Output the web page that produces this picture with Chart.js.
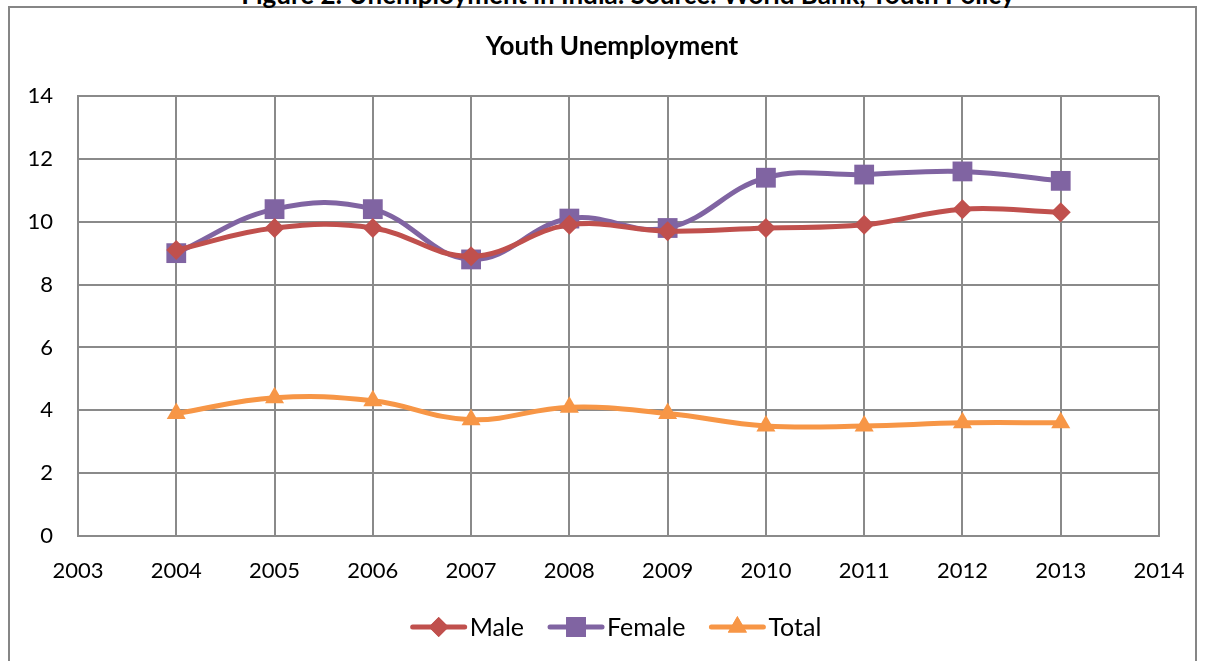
<!DOCTYPE html>
<html>
<head>
<meta charset="utf-8">
<title>Youth Unemployment</title>
<script src="https://cdn.jsdelivr.net/npm/chart.js@4"></script>
<style>
  html, body { margin: 0; padding: 0; background: #fff; overflow: hidden; }
  #wrap { position: relative; width: 1207px; height: 661px; overflow: hidden; }
  #frame {
    position: absolute; left: 8px; top: 6px; width: 1189px; height: 700px;
    border: 2px solid #868686; box-sizing: border-box;
  }
  #caption {
    position: absolute; left: 0; width: 1256px; top: -21px; text-align: center;
    font: bold 26px/30px Lato, sans-serif; color: #000; white-space: nowrap;
  }
  #chart { position: absolute; left: 0; top: 0; }
</style>
</head>
<body>
<div id="wrap">
  <div id="frame"></div>
  <div id="caption">Figure 2: Unemployment in India: Source: World Bank, Youth Policy</div>
  <canvas id="chart" width="1207" height="661"></canvas>
</div>
<script>
// youth unemployment rate (%), by year
const years  = [2004, 2005, 2006, 2007, 2008, 2009, 2010, 2011, 2012, 2013];
const male   = [9.1, 9.8, 9.8, 8.9, 9.9, 9.7, 9.8, 9.9, 10.4, 10.3];
const female = [9.0, 10.4, 10.4, 8.8, 10.1, 9.8, 11.4, 11.5, 11.6, 11.3];
const total  = [3.9, 4.4, 4.3, 3.7, 4.1, 3.9, 3.5, 3.5, 3.6, 3.6];
const chartTitle = 'Youth Unemployment';

const FONT = "Lato, 'Open Sans', sans-serif";
const GRID = '#8a8a8a';

function pts(vals) {
  return years.map((y, i) => ({ x: y, y: vals[i] }));
}

function series(label, vals, color, style, radius) {
  return {
    label: label,
    data: pts(vals),
    borderColor: color,
    backgroundColor: color,
    borderWidth: 5,
    tension: 0.4,
    pointStyle: style,
    pointRadius: radius,
    pointHoverRadius: radius,
    pointBorderWidth: 0
  };
}

// title on top, legend at the bottom (short line with the marker in the middle, then the label)
const decorations = {
  id: 'decorations',
  afterDraw(chart) {
    const ctx = chart.ctx;
    ctx.save();
    ctx.fillStyle = '#000';
    ctx.textAlign = 'center';
    ctx.textBaseline = 'middle';
    ctx.font = 'bold 26px ' + FONT;
    ctx.fillText(chartTitle, 612, 47);

    const sets = chart.data.datasets;
    const lineW = 56, gap = 3, space = 24, cy = 627;
    ctx.textAlign = 'left';
    ctx.font = '25px ' + FONT;
    const widths = sets.map(d => lineW + gap + ctx.measureText(d.label).width);
    const full = widths.reduce((a, b) => a + b, 0) + space * (sets.length - 1);
    let x = 616 - full / 2;
    sets.forEach((d, i) => {
      ctx.strokeStyle = d.borderColor;
      ctx.lineWidth = 5;
      ctx.lineCap = 'round';
      ctx.beginPath();
      ctx.moveTo(x + 2, cy);
      ctx.lineTo(x + lineW - 2, cy);
      ctx.stroke();
      ctx.fillStyle = d.backgroundColor;
      Chart.helpers.drawPoint(ctx, { pointStyle: d.pointStyle, radius: d.pointRadius, borderWidth: 0 }, x + lineW / 2, cy);
      ctx.fill();
      ctx.fillStyle = '#000';
      ctx.fillText(d.label, x + lineW + gap, cy + 1);
      x += widths[i] + space;
    });
    ctx.restore();
  }
};

new Chart(document.getElementById('chart'), {
  type: 'line',
  data: {
    datasets: [
      series('Male', male, '#C0504D', 'rectRot', 10),
      series('Female', female, '#8064A2', 'rect', 14),
      series('Total', total, '#F79646', 'triangle', 11)
    ]
  },
  options: {
    responsive: false,
    animation: false,
    layout: { padding: { top: 96, right: 48, bottom: 75, left: 0 } },
    plugins: {
      legend: { display: false },
      tooltip: { enabled: false },
      title: { display: false }
    },
    scales: {
      x: {
        type: 'linear',
        min: 2003,
        max: 2014,
        afterFit: s => { s.height = 50; },
        ticks: {
          stepSize: 1,
          color: '#000',
          padding: 22,
          maxRotation: 0,
          font: { family: FONT, size: 22 },
          callback: v => String(v)
        },
        grid: { color: GRID, lineWidth: 2, drawTicks: false },
        border: { color: GRID, width: 2 }
      },
      y: {
        min: 0,
        max: 14,
        afterFit: s => { s.width = 78; },
        ticks: {
          stepSize: 2,
          color: '#000',
          padding: 25,
          font: { family: FONT, size: 22 }
        },
        grid: { color: GRID, lineWidth: 2, drawTicks: false },
        border: { color: GRID, width: 2 }
      }
    }
  },
  plugins: [decorations]
});
</script>
</body>
</html>
